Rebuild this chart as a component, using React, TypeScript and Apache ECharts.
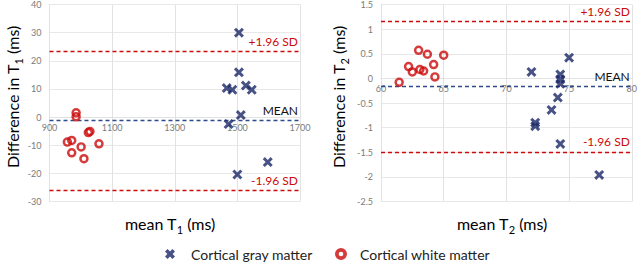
import React, { useEffect, useRef } from "react";
import * as echarts from "echarts";

const FONT = "Lato";

// T1 panel
const t1GrayMean = [1505, 1505, 1466, 1484, 1527, 1546, 1511, 1472, 1500, 1597];
const t1GrayDiff = [30, 15.9, 10.3, 9.7, 11.2, 9.7, 0.7, -2.5, -20.4, -16];
const t1WhiteMean = [985, 985, 957, 971, 971, 1001, 1010, 1024, 1029, 1058];
const t1WhiteDiff = [1.5, 0.1, -8.9, -8.3, -12.7, -10.6, -14.8, -5.5, -5.1, -9.5];
const t1Limits = { mean: -1.3, upper: 23.4, lower: -26 };

// T2 panel
const t2GrayMean = [72.0, 72.3, 72.3, 73.6, 74.1, 74.3, 74.3, 74.3, 75.0, 74.3, 77.4];
const t2GrayDiff = [0.13, -0.9, -0.97, -0.64, -0.39, 0.08, -0.02, -0.11, 0.42, -1.33, -1.96];
const t2WhiteMean = [61.45, 62.2, 62.5, 63.0, 63.1, 63.4, 63.7, 64.2, 64.3, 65.0];
const t2WhiteDiff = [-0.08, 0.24, 0.13, 0.57, 0.18, 0.15, 0.49, 0.28, 0.03, 0.47];
const t2Limits = { mean: -0.17, upper: 1.16, lower: -1.49 };

const seriesNames = ["Cortical gray matter", "Cortical white matter"];
const limitLabels = ["+1.96 SD", "MEAN", "-1.96 SD"];

const NAVY = "#1a2766";
const RED = "#cc0a0a";
const MEANC = "#2f4b8c";

const X_PATH =
  "path://M2.1,0 L5,2.9 L7.9,0 L10,2.1 L7.1,5 L10,7.9 L7.9,10 L5,7.1 L2.1,10 L0,7.9 L2.9,5 L0,2.1 Z";
const X_PATH_BOLD =
  "path://M2.6,0 L5,2.4 L7.4,0 L10,2.6 L7.6,5 L10,7.4 L7.4,10 L5,7.6 L2.6,10 L0,7.4 L2.4,5 L0,2.6 Z";
const RING_PATH =
  "path://M5,0 A5,5 0 1,1 5,10 A5,5 0 1,1 5,0 Z M5,2.6 A2.4,2.4 0 1,0 5,7.4 A2.4,2.4 0 1,0 5,2.6 Z";
const RING_PATH_BOLD =
  "path://M5,0 A5,5 0 1,1 5,10 A5,5 0 1,1 5,0 Z M5,3.1 A1.9,1.9 0 1,0 5,6.9 A1.9,1.9 0 1,0 5,3.1 Z";

const zip = (a: number[], b: number[]) => a.map((v, i) => [v, b[i]]);

function markLines(lim: { mean: number; upper: number; lower: number }) {
  const mk = (v: number, color: string, text: string, labelColor: string) => ({
    yAxis: v,
    lineStyle: { color, type: [4, 3], width: 1.4 },
    label: {
      show: true,
      formatter: text,
      position: "insideEndTop",
      color: labelColor,
      fontFamily: FONT,
      fontSize: 12,
      distance: [2, 4],
    },
  });
  return {
    silent: true,
    symbol: "none",
    animation: false,
    data: [
      mk(lim.upper, RED, limitLabels[0], RED),
      mk(lim.mean, MEANC, limitLabels[1], "#111"),
      mk(lim.lower, RED, limitLabels[2], RED),
    ],
  };
}

function xAxisCfg(gridIndex: number, min: number, max: number, interval: number, offset: number) {
  return {
    type: "value",
    gridIndex,
    min,
    max,
    interval,
    offset,
    axisLine: { show: true, onZero: false, lineStyle: { color: "#e2e2e2" } },
    axisTick: { show: false },
    axisLabel: {
      color: "#7a7a7a",
      fontSize: 9,
      fontFamily: FONT,
      margin: 6,
      formatter: (v: number) => String(v),
    },
    splitLine: { show: true, lineStyle: { color: "#e2e2e2" } },
  };
}

function yAxisCfg(gridIndex: number, min: number, max: number, interval: number) {
  return {
    type: "value",
    gridIndex,
    min,
    max,
    interval,
    axisLine: { show: true, lineStyle: { color: "#e2e2e2" } },
    axisTick: { show: false },
    axisLabel: {
      color: "#7a7a7a",
      fontSize: 9,
      fontFamily: FONT,
      margin: 8,
      formatter: (v: number) => String(v),
    },
    splitLine: { show: true, lineStyle: { color: "#e8e8e8" } },
  };
}

const titleRich = {
  a: { fontSize: 16, fontFamily: FONT, color: "#111", lineHeight: 24, verticalAlign: "middle" },
  s: { fontSize: 11, fontFamily: FONT, color: "#111", lineHeight: 14, verticalAlign: "bottom" },
};

function titleText(x: number, y: number, pre: string, sub: string, post: string, rotate: boolean) {
  return {
    type: "text",
    x,
    y,
    rotation: rotate ? Math.PI / 2 : 0,
    style: {
      text: `{a|${pre}}{s|${sub}}{a|${post}}`,
      rich: titleRich,
      align: "center",
      verticalAlign: "middle",
    },
  };
}

// grid geometry (pixels)
const G1 = { left: 49.5, top: 4, width: 250.5, height: 197.5 };
const G2 = { left: 381, top: 4.5, width: 253, height: 197 };
// offset of the x axis so that it sits on y = 0
const off1 = -(G1.height * 30) / 70;
const off2 = -(G2.height * 2.5) / 4;

export default function App() {
  const ref = useRef<HTMLDivElement>(null);
  useEffect(() => {
    if (!ref.current) return;
    const chart = echarts.init(ref.current, undefined, { renderer: "svg" });
    chart.setOption({
      animation: false,
      backgroundColor: "#fff",
      textStyle: { fontFamily: FONT },
      grid: [G1, G2],
      xAxis: [xAxisCfg(0, 900, 1700, 200, off1), xAxisCfg(1, 60, 80, 5, off2)],
      yAxis: [yAxisCfg(0, -30, 40, 10), yAxisCfg(1, -2.5, 1.5, 0.5)],
      legend: [
        {
          left: 165,
          top: 247,
          padding: 0,
          itemWidth: 14,
          itemHeight: 10,
          textStyle: { fontSize: 14, fontFamily: FONT, color: "#222", padding: [0, 0, 0, 9] },
          data: [{ name: seriesNames[0], icon: X_PATH_BOLD }],
          selectedMode: false,
        },
        {
          left: 335,
          top: 247,
          padding: 0,
          itemWidth: 14,
          itemHeight: 12,
          textStyle: { fontSize: 14, fontFamily: FONT, color: "#222", padding: [0, 0, 0, 7] },
          data: [{ name: seriesNames[1], icon: RING_PATH_BOLD }],
          selectedMode: false,
        },
      ],
      graphic: [
        titleText(12, 97, "Difference in T", "1", " (ms)", true),
        titleText(338, 97, "Difference in T", "2", " (ms)", true),
        titleText(170, 223, "mean T", "1", " (ms)", false),
        titleText(502, 223, "mean T", "2", " (ms)", false),
      ],
      series: [
        {
          name: seriesNames[0],
          type: "scatter",
          xAxisIndex: 0,
          yAxisIndex: 0,
          symbol: X_PATH,
          symbolSize: 10,
          itemStyle: { color: NAVY },
          data: zip(t1GrayMean, t1GrayDiff),
          markLine: markLines(t1Limits),
          z: 5,
        },
        {
          name: seriesNames[1],
          type: "scatter",
          xAxisIndex: 0,
          yAxisIndex: 0,
          symbol: RING_PATH,
          symbolSize: 9.5,
          itemStyle: { color: RED },
          data: zip(t1WhiteMean, t1WhiteDiff),
          z: 5,
        },
        {
          name: seriesNames[0],
          type: "scatter",
          xAxisIndex: 1,
          yAxisIndex: 1,
          symbol: X_PATH,
          symbolSize: 10,
          itemStyle: { color: NAVY },
          data: zip(t2GrayMean, t2GrayDiff),
          markLine: markLines(t2Limits),
          z: 5,
        },
        {
          name: seriesNames[1],
          type: "scatter",
          xAxisIndex: 1,
          yAxisIndex: 1,
          symbol: RING_PATH,
          symbolSize: 9.5,
          itemStyle: { color: RED },
          data: zip(t2WhiteMean, t2WhiteDiff),
          z: 5,
        },
      ],
    });
    return () => chart.dispose();
  }, []);
  return (
    <div
      ref={ref}
      style={{ position: "fixed", left: 0, top: 0, width: 640, height: 263 }}
    />
  );
}
